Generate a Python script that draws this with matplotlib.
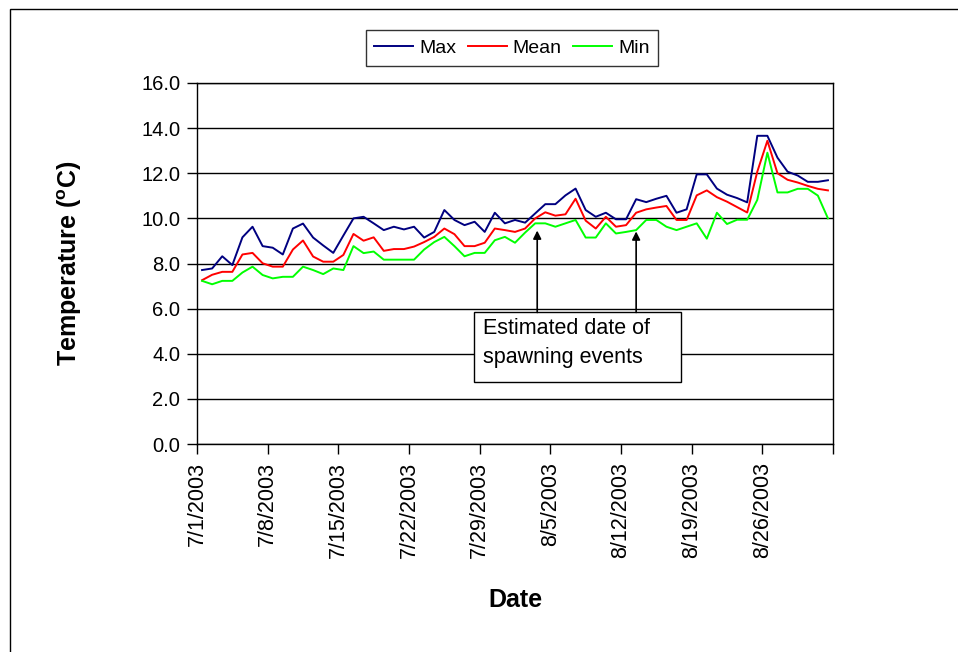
import matplotlib
matplotlib.use("Agg")
import matplotlib.pyplot as plt
import matplotlib.patches as patches
import numpy as np
import pandas as pd

plt.rcParams['font.family'] = ['Liberation Sans', 'DejaVu Sans']
plt.rcParams['mathtext.fontset'] = 'custom'
plt.rcParams['mathtext.rm'] = 'Liberation Sans'
plt.rcParams['mathtext.bf'] = 'Liberation Sans:bold'

# daily water temperatures, 7/1/2003 - 9/1/2003
dates = pd.date_range("2003-07-01", "2003-09-01", freq="D")
t_max = [7.71, 7.78, 8.32, 7.93, 9.16, 9.63, 8.77, 8.70, 8.40, 9.55,
         9.77, 9.15, 8.80, 8.47, 9.24, 10.00, 10.07, 9.78, 9.48, 9.63,
         9.51, 9.63, 9.15, 9.40, 10.37, 9.93, 9.70, 9.85, 9.40, 10.25,
         9.78, 9.93, 9.81, 10.22, 10.63, 10.63, 11.02, 11.32, 10.37, 10.07,
         10.25, 9.96, 9.96, 10.85, 10.72, 10.87, 11.00, 10.25, 10.40, 11.95,
         11.95, 11.32, 11.05, 10.90, 10.71, 13.66, 13.66, 12.69, 12.07, 11.90,
         11.62, 11.62, 11.69]
t_mean = [7.26, 7.50, 7.63, 7.63, 8.40, 8.47, 8.01, 7.86, 7.86, 8.62,
          9.02, 8.31, 8.08, 8.08, 8.38, 9.31, 9.01, 9.16, 8.56, 8.64,
          8.64, 8.75, 8.95, 9.18, 9.55, 9.30, 8.77, 8.77, 8.92, 9.55,
          9.48, 9.40, 9.55, 10.00, 10.27, 10.12, 10.18, 10.87, 9.90, 9.55,
          10.07, 9.63, 9.70, 10.25, 10.40, 10.48, 10.55, 9.93, 9.93, 11.02,
          11.24, 10.94, 10.74, 10.50, 10.26, 12.07, 13.44, 12.00, 11.71, 11.59,
          11.44, 11.31, 11.24]
t_min = [7.23, 7.08, 7.23, 7.23, 7.60, 7.86, 7.49, 7.34, 7.41, 7.41,
         7.86, 7.71, 7.53, 7.78, 7.71, 8.77, 8.46, 8.53, 8.17, 8.17,
         8.17, 8.17, 8.62, 8.95, 9.18, 8.77, 8.32, 8.47, 8.47, 9.03,
         9.18, 8.92, 9.37, 9.78, 9.78, 9.63, 9.78, 9.93, 9.15, 9.15,
         9.78, 9.33, 9.40, 9.48, 9.93, 9.93, 9.63, 9.48, 9.63, 9.78,
         9.10, 10.25, 9.75, 9.94, 9.94, 10.82, 12.91, 11.15, 11.15, 11.31,
         11.31, 11.01, 10.00]

# estimated spawning dates (day index from 7/1) and arrow tip values
spawn_days = [33.7, 43.5]
spawn_vals = [9.46, 9.42]

y_ticks = np.arange(0, 16.1, 2.0)

fig = plt.figure(figsize=(9.58, 6.52), dpi=100)
ax = fig.add_axes([197/958, 1 - 444/652, 636/958, 361/652])

# outer chart border (runs off right/bottom of the image)
fig.patches.append(patches.Rectangle((10/958, -0.1), 1.2, 1.1 - 9/652,
                                     transform=fig.transFigure, fill=False,
                                     ec='black', lw=1.0))

x = np.arange(len(dates)) + 0.5
ax.plot(x, t_max, color='#000080', lw=1.4, label='Max')
ax.plot(x, t_mean, color='#FF0000', lw=1.4, label='Mean')
ax.plot(x, t_min, color='#00FF00', lw=1.4, label='Min')

ax.set_xlim(0, len(dates))
ax.set_ylim(0, 16)
ax.set_yticks(y_ticks)
ax.set_yticklabels([f"{v:.1f}" for v in y_ticks], fontsize=14.5)
ax.yaxis.grid(True, color='black', lw=1.0)
ax.set_axisbelow(True)

tick_pos = np.arange(0, len(dates) + 1, 7)
ax.set_xticks(tick_pos)
labels = [f"{d.month}/{d.day}/{d.year}" for d in dates[::7]] + [""]
ax.set_xticklabels(labels[:len(tick_pos)], rotation=90, fontsize=15.5)
ax.tick_params(axis='both', direction='out', length=7, width=1.0, color='black')
ax.tick_params(axis='y', pad=5)
ax.tick_params(axis='x', pad=6)
for s in ax.spines.values():
    s.set_color('black')
    s.set_linewidth(1.0)

ax.set_xlabel("Date", fontsize=18, fontweight='bold')
ax.xaxis.set_label_coords(0.5, -0.40)
ax.set_ylabel(r"Temperature ($^{\mathbf{o}}$C)", fontsize=18, fontweight='bold')
ax.yaxis.set_label_coords(-0.178, 0.5)

# annotation box and arrows
ax.add_patch(patches.Rectangle((27.45, 2.74), 20.5, 3.09, fc='white',
                               ec='black', lw=1.0, zorder=4))
ax.text(28.3, 4.48, "Estimated date of\nspawning events", fontsize=15.5,
        ha='left', va='center', linespacing=1.45, zorder=5)
for d, v in zip(spawn_days, spawn_vals):
    ax.annotate('', xy=(d, v), xytext=(d, 5.83),
                arrowprops=dict(arrowstyle='-|>', color='black', lw=1.2,
                                mutation_scale=12, shrinkA=0, shrinkB=0),
                zorder=5)

leg = fig.legend(loc='center', bbox_to_anchor=(512/958, 1 - 48/652), ncol=3,
                 fontsize=14, frameon=True, fancybox=False, edgecolor='black',
                 handlelength=2.0, handletextpad=0.3, columnspacing=0.6,
                 borderpad=0.45)
leg.get_frame().set_linewidth(1.0)

fig.savefig("out.png", dpi=100)
